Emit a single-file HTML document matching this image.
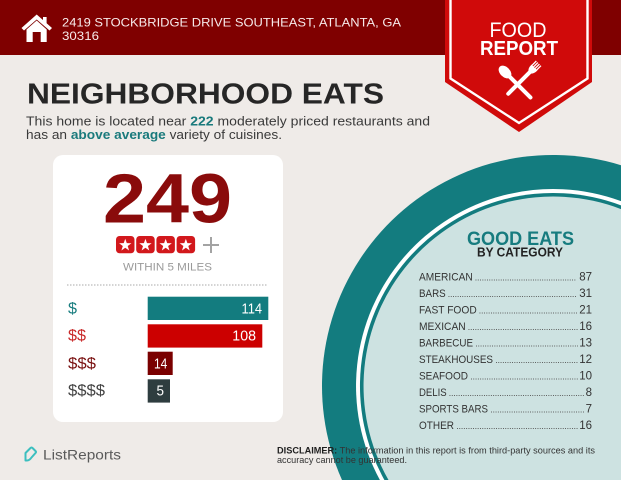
<!DOCTYPE html>
<html><head><meta charset="utf-8"><style>
html,body{margin:0;padding:0;background:#efebe8;width:621px;height:480px;overflow:hidden;}
svg{display:block;overflow:hidden;}
text{font-family:"Liberation Sans",Arial,sans-serif;}
</style></head><body>
<svg width="621" height="480" viewBox="0 0 621 480" xmlns="http://www.w3.org/2000/svg">
<rect x="0" y="0" width="621" height="480" fill="#efebe8"/>

<!-- circle (clipped to frame) -->
<path d="M342,480 A231,231 0 0 1 621,165.2 L621,480 Z" fill="#137c7f"/>
<path d="M379.9,480 A197,197 0 0 1 621,201.1 L621,480 Z" fill="#ffffff"/>
<path d="M384.4,480 A193,193 0 0 1 621,205.4 L621,480 Z" fill="#137c7f"/>
<path d="M388.5,480 A189.5,189.5 0 0 1 621,209.1 L621,480 Z" fill="#cde2e1"/>

<!-- header -->
<rect x="0" y="0" width="621" height="55" fill="#7f0000"/>
<path d="M21.5,28 L36.7,14.5 L52,28 L49.5,30.5 L36.7,19.5 L24,30.5 Z" fill="#fff"/>
<path d="M26.5,29.5 L36.7,20.5 L46.7,29.5 V42 H40.7 V32 H32.7 V42 H26.5 Z" fill="#fff"/>
<rect x="43" y="17" width="3.6" height="7" fill="#fff"/>
<text x="62" y="26.7" font-size="12" fill="#f7eaea" textLength="339" lengthAdjust="spacingAndGlyphs">2419 STOCKBRIDGE DRIVE SOUTHEAST, ATLANTA, GA</text>
<text x="62" y="40" font-size="12" fill="#f7eaea" textLength="37" lengthAdjust="spacingAndGlyphs">30316</text>

<!-- ribbon -->
<path d="M445,0 H592 V82 L519,132 L445,82 Z" fill="#d00a0a"/>
<path d="M450.5,0 V78.5 L519,123 L587.5,78.5 V0" fill="none" stroke="#fff" stroke-width="2.4"/>
<text x="489.5" y="37" font-size="21" fill="#fff" textLength="57" lengthAdjust="spacingAndGlyphs">FOOD</text>
<text x="480" y="55" font-size="20" font-weight="bold" fill="#fff" textLength="78" lengthAdjust="spacingAndGlyphs">REPORT</text>
<!-- spoon -->
<g transform="translate(505,72) rotate(-45)">
<ellipse cx="0" cy="0" rx="5" ry="7.5" fill="#fff"/>
<line x1="0" y1="5" x2="0" y2="36" stroke="#fff" stroke-width="4" stroke-linecap="round"/>
</g>
<!-- fork -->
<g transform="translate(533,69) rotate(45)">
<path d="M-4.2,-2 Q-4.2,4.5 0,5.5 Q4.2,4.5 4.2,-2 Z" fill="#fff"/>
<line x1="-3.3" y1="-8" x2="-3.3" y2="-1" stroke="#fff" stroke-width="1.3"/>
<line x1="-1.1" y1="-8" x2="-1.1" y2="-1" stroke="#fff" stroke-width="1.3"/>
<line x1="1.1" y1="-8" x2="1.1" y2="-1" stroke="#fff" stroke-width="1.3"/>
<line x1="3.3" y1="-8" x2="3.3" y2="-1" stroke="#fff" stroke-width="1.3"/>
<line x1="0" y1="4" x2="0" y2="35" stroke="#fff" stroke-width="4" stroke-linecap="round"/>
</g>

<!-- title -->
<text x="27" y="103.3" font-size="29" font-weight="bold" fill="#262626" textLength="357" lengthAdjust="spacingAndGlyphs">NEIGHBORHOOD EATS</text>
<text x="26" y="125.5" font-size="13" fill="#3a3a3a" textLength="404" lengthAdjust="spacingAndGlyphs">This home is located near <tspan font-weight="bold" fill="#1a7a7c">222</tspan> moderately priced restaurants and</text>
<text x="26" y="139" font-size="13" fill="#3a3a3a" textLength="256" lengthAdjust="spacingAndGlyphs">has an <tspan font-weight="bold" fill="#1a7a7c">above average</tspan> variety of cuisines.</text>

<!-- card -->
<rect x="53" y="155" width="230" height="267" rx="10" fill="#ffffff"/>
<text x="103" y="222.7" font-size="70" font-weight="bold" fill="#8a0b0b" textLength="129" lengthAdjust="spacingAndGlyphs">249</text>
<g fill="#d2181c">
<rect x="116" y="236" width="18.5" height="17.3" rx="3.5"/>
<rect x="136.2" y="236" width="18.5" height="17.3" rx="3.5"/>
<rect x="156.4" y="236" width="18.5" height="17.3" rx="3.5"/>
<rect x="176.6" y="236" width="18.5" height="17.3" rx="3.5"/>
</g>
<g fill="#fff">
<path transform="translate(125.25,245.2)" d="M0,-6.5 L1.53,-2.1 L6.18,-2.01 L2.47,0.8 L3.82,5.26 L0,2.6 L-3.82,5.26 L-2.47,0.8 L-6.18,-2.01 L-1.53,-2.1 Z"/>
<path transform="translate(145.45,245.2)" d="M0,-6.5 L1.53,-2.1 L6.18,-2.01 L2.47,0.8 L3.82,5.26 L0,2.6 L-3.82,5.26 L-2.47,0.8 L-6.18,-2.01 L-1.53,-2.1 Z"/>
<path transform="translate(165.65,245.2)" d="M0,-6.5 L1.53,-2.1 L6.18,-2.01 L2.47,0.8 L3.82,5.26 L0,2.6 L-3.82,5.26 L-2.47,0.8 L-6.18,-2.01 L-1.53,-2.1 Z"/>
<path transform="translate(185.85,245.2)" d="M0,-6.5 L1.53,-2.1 L6.18,-2.01 L2.47,0.8 L3.82,5.26 L0,2.6 L-3.82,5.26 L-2.47,0.8 L-6.18,-2.01 L-1.53,-2.1 Z"/>
</g>
<line x1="203" y1="245" x2="219" y2="245" stroke="#a3a3a3" stroke-width="2"/>
<line x1="211" y1="237" x2="211" y2="253" stroke="#a3a3a3" stroke-width="2"/>
<text x="123" y="270.7" font-size="11" fill="#9a9a9a" textLength="89" lengthAdjust="spacingAndGlyphs">WITHIN 5 MILES</text>
<line x1="67" y1="285" x2="268" y2="285" stroke="#aaaaaa" stroke-width="1" stroke-dasharray="1.5 1.5"/>

<rect x="147.7" y="296.7" width="120.6" height="23.3" fill="#137c7f"/>
<rect x="147.7" y="324.3" width="114.6" height="23.3" fill="#cc0000"/>
<rect x="147.7" y="351.7" width="25" height="23.3" fill="#7a0000"/>
<rect x="147.7" y="379.3" width="22.3" height="23.3" fill="#2e3d3f"/>
<text x="241.5" y="313.3" font-size="14.5" fill="#fff" textLength="20.5" lengthAdjust="spacingAndGlyphs">114</text>
<text x="232.3" y="340.7" font-size="14.5" fill="#fff" textLength="23.7" lengthAdjust="spacingAndGlyphs">108</text>
<text x="154" y="368.3" font-size="14.5" fill="#fff" textLength="13.3" lengthAdjust="spacingAndGlyphs">14</text>
<text x="156.5" y="395.7" font-size="14.5" fill="#fff" textLength="7.5" lengthAdjust="spacingAndGlyphs">5</text>

<text x="68" y="313.3" font-size="16" fill="#1a7e80" textLength="9" lengthAdjust="spacingAndGlyphs">$</text>
<text x="68" y="340.7" font-size="16" fill="#c92a2a" textLength="18" lengthAdjust="spacingAndGlyphs">$$</text>
<text x="68" y="368.3" font-size="16" fill="#7a1212" textLength="28" lengthAdjust="spacingAndGlyphs">$$$</text>
<text x="68" y="395.7" font-size="16" fill="#444" textLength="37" lengthAdjust="spacingAndGlyphs">$$$$</text>

<!-- ListReports -->
<path d="M25.5,460.5 V453 L30.5,448 Q31.5,447 32.5,448 L35.5,451 Q36.5,452 35.5,453 L31.5,457.5 Q29.5,460.5 27,460.5 Z" fill="none" stroke="#3cbfbf" stroke-width="2" stroke-linejoin="round"/>
<text x="43" y="459.3" font-size="14" fill="#5a5a5a" textLength="78" lengthAdjust="spacingAndGlyphs">ListReports</text>

<!-- good eats -->
<text x="467" y="245" font-size="19.5" font-weight="bold" fill="#177c7f" textLength="107" lengthAdjust="spacingAndGlyphs">GOOD EATS</text>
<text x="477" y="256.5" font-size="12.5" font-weight="bold" fill="#222" textLength="86" lengthAdjust="spacingAndGlyphs">BY CATEGORY</text>

<g font-size="11" fill="#333">
<text x="419" y="280.7" textLength="53.7" lengthAdjust="spacingAndGlyphs">AMERICAN</text>
<text x="419" y="297.2" textLength="26.7" lengthAdjust="spacingAndGlyphs">BARS</text>
<text x="419" y="313.7" textLength="57.7" lengthAdjust="spacingAndGlyphs">FAST FOOD</text>
<text x="419" y="330.2" textLength="46.7" lengthAdjust="spacingAndGlyphs">MEXICAN</text>
<text x="419" y="346.7" textLength="54" lengthAdjust="spacingAndGlyphs">BARBECUE</text>
<text x="419" y="363.2" textLength="74" lengthAdjust="spacingAndGlyphs">STEAKHOUSES</text>
<text x="419" y="379.7" textLength="49" lengthAdjust="spacingAndGlyphs">SEAFOOD</text>
<text x="419" y="396.2" textLength="27.7" lengthAdjust="spacingAndGlyphs">DELIS</text>
<text x="419" y="412.7" textLength="69" lengthAdjust="spacingAndGlyphs">SPORTS BARS</text>
<text x="419" y="429.2" textLength="35" lengthAdjust="spacingAndGlyphs">OTHER</text>
</g>
<g font-size="11.5" fill="#333" text-anchor="end">
<text x="592" y="280.7">87</text>
<text x="592" y="297.2">31</text>
<text x="592" y="313.7">21</text>
<text x="592" y="330.2">16</text>
<text x="592" y="346.7">13</text>
<text x="592" y="363.2">12</text>
<text x="592" y="379.7">10</text>
<text x="592" y="396.2">8</text>
<text x="592" y="412.7">7</text>
<text x="592" y="429.2">16</text>
</g>
<g stroke="#555" stroke-width="0.9" stroke-dasharray="0.9 1.4">
<line x1="475.5" y1="280" x2="576" y2="280"/>
<line x1="448.5" y1="296.5" x2="577" y2="296.5"/>
<line x1="479.5" y1="313" x2="577" y2="313"/>
<line x1="468.5" y1="329.5" x2="578" y2="329.5"/>
<line x1="476" y1="346" x2="578" y2="346"/>
<line x1="496" y1="362.5" x2="578" y2="362.5"/>
<line x1="471" y1="379" x2="578" y2="379"/>
<line x1="449.5" y1="395.5" x2="584" y2="395.5"/>
<line x1="491" y1="412" x2="584" y2="412"/>
<line x1="457" y1="428.5" x2="578" y2="428.5"/>
</g>

<!-- disclaimer -->
<text x="277" y="453.3" font-size="9" fill="#333" textLength="318" lengthAdjust="spacingAndGlyphs"><tspan font-weight="bold" fill="#1e1e1e">DISCLAIMER:</tspan> The information in this report is from third-party sources and its</text>
<text x="277" y="463" font-size="9" fill="#333" textLength="130" lengthAdjust="spacingAndGlyphs">accuracy cannot be guaranteed.</text>
</svg>
</body></html>
